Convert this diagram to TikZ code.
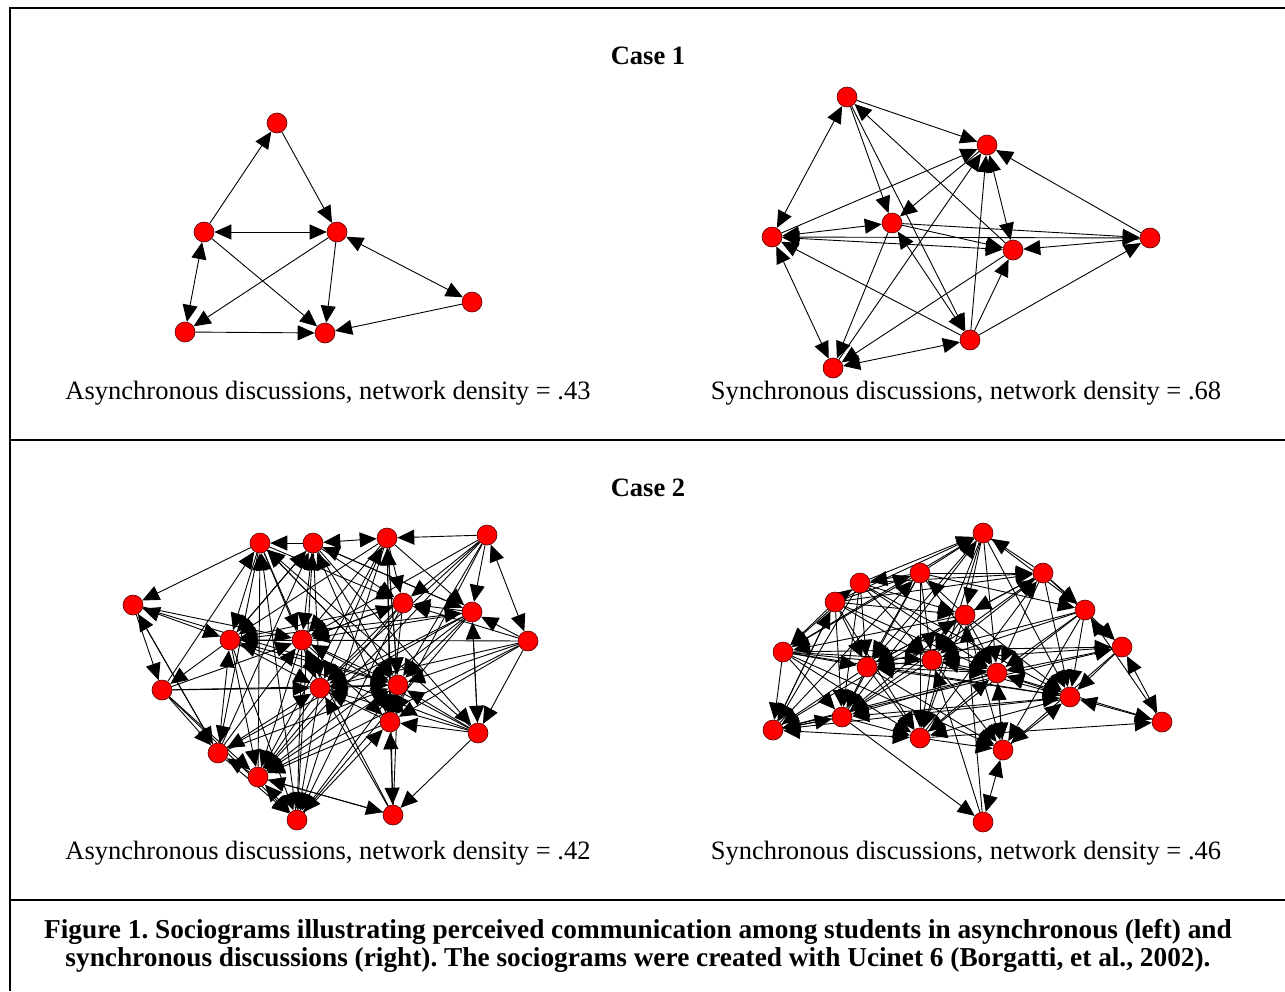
\documentclass[tikz,border=0pt]{standalone}
\usepackage{fontspec}
\setmainfont{Liberation Serif}
\frenchspacing
\usetikzlibrary{arrows.meta,backgrounds}
\tikzset{
  actor/.style={circle, fill=red, draw=red!35!black, line width=0.6pt, minimum size=20pt, inner sep=0pt},
  tie/.style={line width=0.9pt, -{Triangle[length=17pt,width=15pt]}},
  mutual/.style={line width=0.9pt, {Triangle[length=17pt,width=15pt]}-{Triangle[length=17pt,width=15pt]}},
  caption/.style={font=\fontsize{26.5}{28}\selectfont},
  heading/.style={font=\fontsize{26.5}{28}\selectfont\bfseries},
  frame/.style={line width=2.6pt}
}

\begin{document}
\begin{tikzpicture}[x=1pt, y=-1pt]
%\draw [help lines] (0,0) grid (1285,991);
\useasboundingbox (0,0) rectangle (1285,991);
\draw [frame] (10,991) -- (10,8) -- (1290,8);
\draw [frame] (10,440) -- (1290,440);
\draw [frame] (10,900) -- (1290,900);

\node [heading] (title1) at (648,56) {Case 1};
\node [heading] (title2) at (648,488) {Case 2};
\node [caption] (cap1a) at (328,393) {Asynchronous discussions, network density = .43};
\node [caption] (cap1s) at (966,393) {Synchronous discussions, network density = .68};
\node [caption] (cap2a) at (328,853) {Asynchronous discussions, network density = .42};
\node [caption] (cap2s) at (966,853) {Synchronous discussions, network density = .46};
\node [heading, font=\fontsize{27.3}{28}\selectfont\bfseries, align=center] (figcap) at (638,946) {Figure 1. Sociograms illustrating perceived communication among students in asynchronous (left) and\\ synchronous discussions (right). The sociograms were created with Ucinet 6 (Borgatti, et al., 2002).};

% case 1, asynchronous
\foreach \n/\x/\y in {a1/277/123, a2/204/232, a3/337/232, a4/185/332, a5/325/333, a6/472/302}
  \node [actor] (\n) at (\x,\y) {};
% case 1, synchronous
\foreach \n/\x/\y in {s1/847/97, s2/987/145, s3/892/223, s4/772/237, s5/1013/250, s6/1150/238, s7/970/340, s8/833/368}
  \node [actor] (\n) at (\x,\y) {};
% case 2, asynchronous
\foreach \n/\x/\y in {aa1/260/543, aa2/313/543, aa3/387/538, aa4/487/535, aa5/133/605, aa6/403/603, aa7/472/612,
  aa8/528/641, aa9/230/640, aa10/302/640, aa11/162/690, aa12/320/688, aa13/398/685, aa14/390/722,
  aa15/478/733, aa16/218/753, aa17/258/777, aa18/297/820, aa19/393/815}
  \node [actor] (\n) at (\x,\y) {};
% case 2, synchronous
\foreach \n/\x/\y in {ss1/983/533, ss2/920/573, ss3/1043/573, ss4/860/583, ss5/835/602, ss6/965/615, ss7/1085/610,
  ss8/1122/647, ss9/783/652, ss10/867/667, ss11/932/660, ss12/997/673, ss13/1070/697, ss14/842/717,
  ss15/1162/722, ss16/773/730, ss17/920/738, ss18/1003/750, ss19/983/822}
  \node [actor] (\n) at (\x,\y) {};

\begin{scope}[on background layer]
\fill [white] (0,0) rectangle (1285,991);
\foreach \s/\t in {a2/a1, a1/a3, a2/a5, a3/a4, a3/a5, a4/a5, a6/a5}
  \draw [tie] (\s) -- (\t);
\foreach \s/\t in {a2/a3, a2/a4, a3/a6}
  \draw [mutual] (\s) -- (\t);

\foreach \s/\t in {s1/s2, s1/s3, s1/s7, s5/s1, s4/s2, s2/s3, s8/s2, s7/s2, s6/s2, s3/s5, s3/s8,
  s6/s5, s7/s5, s5/s8, s4/s6, s7/s6, s7/s4, s3/s6}
  \draw [tie] (\s) -- (\t);
\foreach \s/\t in {s1/s4, s2/s5, s8/s7, s4/s5, s3/s7, s4/s8, s3/s4}
  \draw [mutual] (\s) -- (\t);

\foreach \s/\t in {aa1/aa5, aa2/aa1, aa1/aa9, aa1/aa10, aa1/aa16, aa2/aa10, aa2/aa12, aa2/aa6, aa2/aa13,
  aa3/aa10, aa3/aa6, aa3/aa13, aa3/aa7, aa4/aa3, aa4/aa7, aa4/aa14, aa4/aa17, aa5/aa11, aa5/aa16, aa5/aa10,
  aa7/aa6, aa8/aa7, aa8/aa13, aa8/aa15, aa8/aa12, aa8/aa9, aa6/aa14, aa6/aa17, aa6/aa18, aa7/aa2, aa7/aa13,
  aa7/aa15, aa7/aa16, aa9/aa2, aa9/aa12, aa9/aa18, aa9/aa11, aa9/aa17, aa10/aa9, aa10/aa6, aa10/aa13,
  aa10/aa18, aa11/aa12, aa11/aa13, aa11/aa17, aa12/aa10, aa12/aa18, aa12/aa17, aa13/aa12, aa13/aa1,
  aa14/aa13, aa14/aa12, aa14/aa17, aa15/aa13, aa15/aa14, aa15/aa10, aa15/aa19, aa16/aa12, aa16/aa9,
  aa16/aa18, aa17/aa16, aa17/aa19, aa17/aa13, aa18/aa14, aa19/aa17, aa19/aa13, aa14/aa2, aa15/aa1,
  aa6/aa9, aa7/aa10, aa8/aa6, aa4/aa6,
  aa1/aa12, aa1/aa13, aa2/aa9, aa2/aa15, aa3/aa12, aa3/aa14, aa3/aa18, aa4/aa13, aa4/aa12, aa4/aa10,
  aa5/aa13, aa6/aa12, aa6/aa10, aa7/aa12, aa7/aa17, aa7/aa18, aa8/aa14, aa8/aa17, aa9/aa13, aa10/aa14,
  aa10/aa17, aa11/aa16, aa11/aa18, aa15/aa12, aa15/aa9, aa16/aa13, aa19/aa12, aa18/aa13, aa1/aa6,
  aa2/aa7, aa3/aa9,
  aa11/aa1, aa16/aa2, aa17/aa3, aa18/aa2, aa19/aa3, aa15/aa7, aa11/aa10, aa19/aa10, aa16/aa10,
  aa9/aa7, aa17/aa1, aa18/aa1, aa16/aa5}
  \draw [tie] (\s) -- (\t);
\foreach \s/\t in {aa14/aa19, aa5/aa9, aa2/aa3, aa8/aa4, aa13/aa3, aa17/aa18}
  \draw [mutual] (\s) -- (\t);

\foreach \s/\t in {ss2/ss1, ss4/ss1, ss5/ss1, ss1/ss6, ss1/ss11, ss1/ss12, ss1/ss17, ss1/ss10, ss1/ss7,
  ss3/ss1, ss5/ss4, ss2/ss4, ss5/ss2, ss2/ss3, ss2/ss11, ss2/ss14, ss2/ss17, ss3/ss7, ss3/ss6, ss3/ss12,
  ss3/ss13, ss3/ss8, ss4/ss3, ss4/ss10, ss4/ss11, ss4/ss16, ss4/ss9, ss5/ss9, ss5/ss10, ss5/ss14,
  ss5/ss16, ss5/ss17, ss6/ss11, ss6/ss12, ss6/ss2, ss6/ss10, ss7/ss8, ss7/ss12, ss7/ss13, ss7/ss11,
  ss8/ss13, ss8/ss12, ss9/ss16, ss9/ss14, ss9/ss10, ss9/ss11, ss9/ss12, ss10/ss14, ss10/ss16, ss10/ss17,
  ss11/ss10, ss11/ss17, ss11/ss18, ss11/ss14, ss12/ss18, ss12/ss14, ss12/ss11, ss12/ss16, ss13/ss12,
  ss13/ss17, ss13/ss10, ss14/ss16, ss14/ss17, ss14/ss19, ss17/ss18, ss17/ss12, ss18/ss12, ss18/ss13,
  ss9/ss13, ss17/ss15, ss6/ss13, ss4/ss12,
  ss2/ss7, ss2/ss12, ss2/ss10, ss4/ss6, ss4/ss13, ss5/ss6, ss5/ss11, ss5/ss12, ss5/ss3, ss6/ss14,
  ss6/ss17, ss6/ss9, ss7/ss10, ss7/ss17, ss7/ss18, ss8/ss11, ss8/ss18, ss9/ss17, ss9/ss18, ss10/ss12,
  ss10/ss18, ss11/ss13, ss13/ss14, ss3/ss10, ss3/ss11, ss4/ss14, ss2/ss9, ss1/ss9, ss1/ss13, ss6/ss18,
  ss14/ss1, ss16/ss2, ss17/ss3, ss14/ss3, ss16/ss5, ss15/ss7, ss16/ss6, ss19/ss6, ss15/ss12,
  ss16/ss13, ss19/ss11, ss9/ss8, ss16/ss8}
  \draw [tie] (\s) -- (\t);
\foreach \s/\t in {ss13/ss15, ss18/ss19, ss8/ss15, ss16/ss14, ss17/ss16}
  \draw [mutual] (\s) -- (\t);
\end{scope}
\end{tikzpicture}
\end{document}
